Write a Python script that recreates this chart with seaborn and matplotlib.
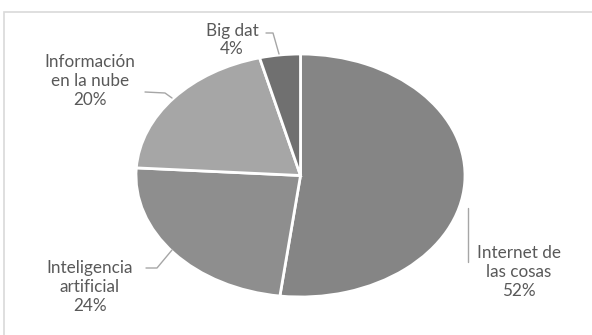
import matplotlib
matplotlib.use('Agg')
import matplotlib.pyplot as plt
import seaborn as sns
from matplotlib.patches import Rectangle

# DATA
labels = ['Internet de\nlas cosas', 'Inteligencia\nartificial', 'Información\nen la nube', 'Big dat']
values = [52, 24, 20, 4]
colors = ['#858585', '#8e8e8e', '#a6a6a6', '#707070']

sns.set_theme(style='white')
plt.rcParams['font.family'] = ['Lato', 'DejaVu Sans']

fig = plt.figure(figsize=(5.92, 3.35), dpi=100)
ax = fig.add_axes([0, 0, 1, 1])

wedges, _ = ax.pie(values, colors=colors, startangle=90, counterclock=False,
                   wedgeprops=dict(edgecolor='white', linewidth=2))

# stretch the pie into the ellipse of the picture (pixel geometry)
cx, cy, rx, ry = 300.5, 175.5, 164.5, 121.5
W, H = 592, 335
ax.set_aspect('auto')
ax.set_xlim(-cx / rx, (W - cx) / rx)
ax.set_ylim(-(H - cy) / ry, cy / ry)
ax.axis('off')

def px(x, y):
    # pixel -> data
    return (x - cx) / rx, (cy - y) / ry

txt = '#595959'
line = '#a6a6a6'
label_pos = [(519, 272), (90, 287), (90, 81), (232, 40)]
for lab, v, (x, y) in zip(labels, values, label_pos):
    ax.text(*px(x, y), '{}\n{}%'.format(lab, v), ha='center', va='center',
            color=txt, fontsize=12.3, linespacing=1.22)

# leader lines
leaders = [
    [(468, 208), (468, 262)],
    [(146, 268), (157, 268), (172, 250)],
    [(145, 92), (165, 93), (172, 98)],
    [(266, 33), (273, 33), (279, 54)],
]
for pts in leaders:
    xs, ys = zip(*[px(a, b) for a, b in pts])
    ax.plot(xs, ys, color=line, lw=1)

# chart frame
fig.patches.append(Rectangle((4 / W, -0.1), 1.2, 1 - 12.5 / H + 0.1,
                             transform=fig.transFigure, fill=False,
                             edgecolor='#d9d9d9', lw=1.2))

fig.savefig('out.png', dpi=100)
